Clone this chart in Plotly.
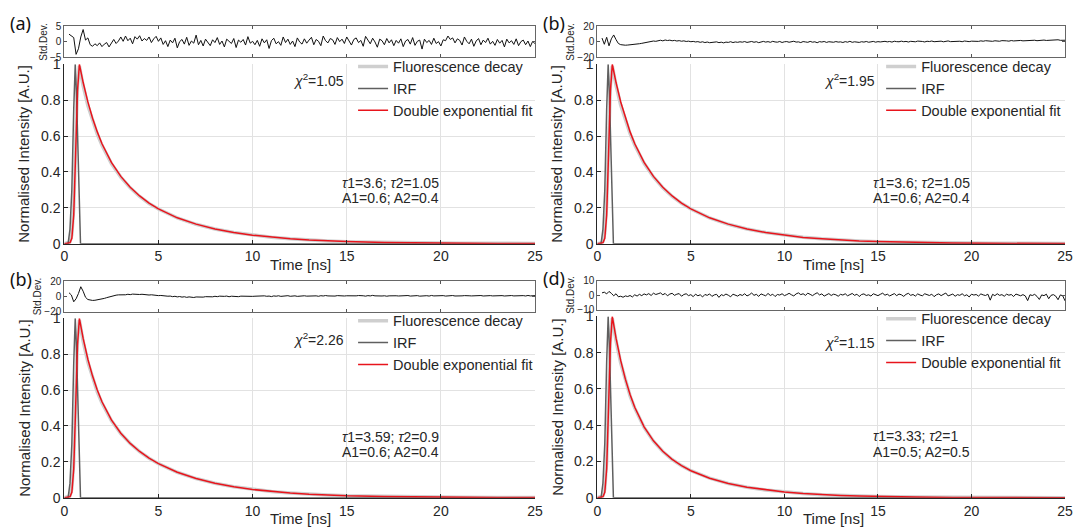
import plotly.graph_objects as go

W, H = 1078, 530

# ---------------- data ----------------
t_main = [0, 0.2, 0.3, 0.4, 0.5, 0.6, 0.7, 0.8, 0.9, 1.0, 1.25, 1.5, 1.75, 2, 2.5, 3, 3.5, 4, 4.5, 5,
          6, 7, 8, 9, 10, 11, 12, 13, 14, 15, 17, 19, 21, 23, 25]
t_irf = [0, 0.2, 0.3, 0.4, 0.5, 0.58, 0.65, 0.73, 0.8, 0.86, 1.0, 25]

fit_a = [0, 0.002, 0.005, 0.03, 0.16, 0.5, 0.85, 1.0, 0.947, 0.898, 0.790, 0.699, 0.623, 0.557, 0.453, 0.375,
         0.314, 0.266, 0.226, 0.194, 0.144, 0.109, 0.082, 0.062, 0.047, 0.035, 0.027, 0.020, 0.015, 0.012,
         0.007, 0.004, 0.002, 0.001, 0.001]
decay_a = [0, 0.004, 0.01, 0.05, 0.2, 0.55, 0.88, 0.99, 0.93, 0.88, 0.77, 0.685, 0.61, 0.548, 0.446, 0.371,
           0.311, 0.263, 0.224, 0.193, 0.144, 0.108, 0.082, 0.062, 0.047, 0.036, 0.027, 0.020, 0.015, 0.011,
           0.007, 0.004, 0.003, 0.002, 0.001]
irf_a = [0, 0, 0.08, 0.3, 0.75, 1.0, 0.82, 0.5, 0.18, 0, 0, 0]

fit_b = [0, 0.002, 0.005, 0.03, 0.16, 0.5, 0.85, 1.0, 0.947, 0.898, 0.790, 0.699, 0.623, 0.557, 0.453, 0.375,
         0.314, 0.266, 0.226, 0.194, 0.144, 0.109, 0.082, 0.062, 0.047, 0.035, 0.027, 0.020, 0.015, 0.012,
         0.007, 0.004, 0.002, 0.001, 0.001]
decay_b = [0, 0.004, 0.012, 0.06, 0.22, 0.56, 0.88, 0.99, 0.935, 0.882, 0.772, 0.688, 0.613, 0.55, 0.448, 0.372,
           0.312, 0.264, 0.225, 0.193, 0.144, 0.108, 0.082, 0.062, 0.047, 0.036, 0.027, 0.020, 0.015, 0.011,
           0.007, 0.004, 0.003, 0.002, 0.001]
irf_b = [0, 0, 0.08, 0.3, 0.75, 1.0, 0.82, 0.5, 0.18, 0, 0, 0]

fit_c = [0, 0.002, 0.005, 0.03, 0.16, 0.5, 0.85, 1.0, 0.941, 0.888, 0.772, 0.678, 0.600, 0.535, 0.434, 0.360,
         0.303, 0.258, 0.221, 0.190, 0.142, 0.107, 0.081, 0.061, 0.046, 0.035, 0.027, 0.020, 0.015, 0.011,
         0.007, 0.004, 0.002, 0.001, 0.001]
decay_c = [0, 0.004, 0.01, 0.05, 0.2, 0.55, 0.88, 0.99, 0.925, 0.872, 0.757, 0.665, 0.590, 0.528, 0.430, 0.358,
           0.302, 0.257, 0.220, 0.190, 0.142, 0.107, 0.081, 0.061, 0.046, 0.035, 0.027, 0.020, 0.015, 0.011,
           0.007, 0.004, 0.003, 0.002, 0.001]
irf_c = [0, 0, 0.08, 0.3, 0.75, 1.0, 0.82, 0.5, 0.18, 0, 0, 0]

fit_d = [0, 0.002, 0.005, 0.03, 0.16, 0.5, 0.85, 1.0, 0.938, 0.880, 0.756, 0.654, 0.569, 0.499, 0.391, 0.314,
         0.256, 0.212, 0.177, 0.149, 0.108, 0.079, 0.058, 0.043, 0.032, 0.023, 0.017, 0.013, 0.010, 0.007,
         0.004, 0.002, 0.001, 0.001, 0.000]
decay_d = [0, 0.004, 0.01, 0.05, 0.2, 0.55, 0.88, 0.99, 0.925, 0.866, 0.743, 0.645, 0.562, 0.494, 0.388, 0.312,
           0.255, 0.211, 0.177, 0.149, 0.108, 0.079, 0.058, 0.043, 0.032, 0.024, 0.017, 0.013, 0.010, 0.007,
           0.004, 0.002, 0.001, 0.001, 0.000]
irf_d = [0, 0, 0.08, 0.3, 0.75, 1.0, 0.82, 0.5, 0.18, 0, 0, 0]

# residuals sampled from t = 0.25 ns every 0.125 ns
res_t0, res_dt = 0.25, 0.125
res_a = [2.5, 2.0, 1.4, -4.0, -2.2, 1.6, 4.0, 0.6, 1.3, -0.9, -1.4, -0.6, -1.2, -0.3, -1.5, -0.7, -0.2, -1.6, -0.4, 0.8,
         -0.5, 0.3, 1.6, 0.2, 1.9, 0.4, 1.2, -0.6, 1.7, 0.9, 2.0, 0.3, 1.1, 0.5, 1.6, -0.2, 1.0, 1.8, 0.2, 1.3,
         -0.8, 0.4, -1.5, 0.6, -0.3, 1.2, -1.9, 0.1, 0.8, -0.7, 1.5, -1.1, 0.3, -0.4, 2.2, -0.9, 0.5, -1.3, 0.9, 0.0,
         -1.2, 0.7, -0.2, 1.4, -0.8, 0.3, -1.6, 0.9, 0.2, -0.5, 1.1, -1.8, 0.6, -0.1, 0.8, -1.0, 1.7, -0.4, 0.2, -0.9,
         0.5, -1.4, 1.0, -0.3, 0.7, -2.1, 0.4, 1.2, -0.6, 0.1, -1.1, 1.6, -0.2, 0.9, -0.8, 0.3, -1.5, 1.3, 0.0, -0.7,
         1.0, -0.4, 0.6, 1.5, -0.9, 0.8, 0.2, -1.2, 1.9, 0.4, -0.3, 1.1, 0.7, -0.8, 1.4, 0.1, 0.9, -0.5, 1.6, 0.3,
         -1.0, 0.8, 1.3, -0.2, 0.5, -1.4, 1.8, 0.6, -0.6, 1.2, 0.0, -1.7, 0.9, 0.4, -0.9, 1.1, -0.3, 0.7, -1.2, 0.5,
         -0.4, 1.0, -1.5, 0.3, 0.8, -0.7, 1.4, -1.1, 0.2, 0.6, -2.3, 0.9, -0.2, 0.5, -0.8, 1.2, -0.5, 0.1, -1.3, 0.7,
         0.4, 1.9, 0.8, 1.3, -0.3, 1.0, 0.5, -1.0, 1.6, 0.2, -0.6, 0.9, -1.4, 0.3, 1.1, -0.9, 0.6, -0.2, 1.2, -0.7,
         0.2, -1.1, 0.8, -0.4, 0.5, -1.6, 0.9, -0.3, 0.4, -0.8, 1.0, -1.2, 0.1, 0.6, -0.9, 0.3, -1.5, 0.2, -0.6]
res_b = [5, -3, 6, -5, 4, 9, 3, -2, -3.5, -4, -4.2, -4, -3.8, -3.5, -3.2, -2.8, -2.3, -1.8, -1.2, -0.6,
         0, 0.5, 1.2, 0.8, 1.6, 2.2, 1.4, 2.5, 1.8, 2.3, 1.5, 2.0, 1.2, 1.7, 0.9, 1.4, 0.6, 1.0, 0.3, 0.7,
         0.0, 0.4, -0.5, 0.2, -0.8, -0.1, -1.0, -0.4, -0.7, 0.1, -0.9, -0.3, -1.2, -0.2, -0.6, 0.3, -0.8, 0.0, -0.5, 0.2,
         -0.3, 0.5, -0.6, 0.1, 0.6, -0.4, 0.3, -0.9, 0.2, 0.7, -0.2, 0.4, -0.5, 0.8, 0.0, -0.3, 0.6, -0.7, 0.2, 0.5,
         -0.4, 0.3, 0.9, -0.2, 0.1, -0.8, 0.5, 0.0, -0.5, 0.7, -0.3, 0.2, -1.0, 0.4, -0.1, 0.6, -0.6, 0.3, 0.0, -0.4,
         0.5, -0.2, 0.1, -0.7, 0.4, -0.3, 0.8, -0.5, 0.2, 0.0, -0.6, 0.3, -0.2, 0.6, -0.4, 0.1, 0.7, -0.3, 0.4, 0.0,
         0.3, 0.8, 0.1, 0.6, -0.2, 0.9, 0.4, 0.2, 1.0, 0.3, 0.7, -0.1, 0.8, 0.5, 0.2, 1.1, 0.4, 0.6, 0.0, 0.9,
         0.5, 1.2, 0.3, 0.8, 0.6, 1.0, 0.2, 0.9, 1.3, 0.4, 0.7, 1.1, 0.5, 0.9, 0.3, 1.2, 0.8, 0.4, 1.0, 0.6,
         1.1, 0.7, 1.4, 0.9, 1.6, 1.0, 1.3, 0.8, 1.5, 1.2, 0.9, 1.7, 1.1, 1.4, 1.0, 1.8, 1.3, 1.6, 1.1, 1.9,
         1.4, 1.7, 2.0, 1.5, 1.9, 2.2, 1.6, 2.1, 1.8, 2.4, 1.9, 2.2, 2.6, 2.0, 2.3, 2.8, 2.1, 2.5, 2.2]
res_c = [5, 2, -7, -3, 4, 13, 7, -1, -4, -5, -5.2, -5, -4.6, -4, -3.2, -2.5, -1.5, -0.5, 0.5, 1.2,
         1.8, 2.2, 1.9, 2.6, 2.3, 3.0, 2.5, 3.2, 2.8, 3.4, 2.7, 3.0, 2.4, 2.8, 2.0, 2.3, 1.6, 1.9, 1.2, 1.4,
         0.8, 1.0, 0.4, 0.6, -0.2, 0.3, -0.5, 0.0, -0.8, -0.3, -1.1, -0.5, -0.9, -1.3, -0.6, -1.0, -0.4, -0.8, -0.2, -0.6,
         0.0, -0.4, 0.3, -0.2, 0.5, -0.1, 0.2, 0.6, -0.3, 0.4, 0.1, 0.7, -0.2, 0.5, 0.3, 0.8, 0.0, 0.6, 0.2, 0.4,
         0.7, 0.1, 0.5, 0.9, 0.3, 0.6, -0.1, 0.8, 0.4, 1.0, 0.2, 0.7, 0.5, 1.1, 0.3, 0.6, 0.9, 0.2, 0.8, 0.4,
         1.0, 0.5, 0.8, 1.2, 0.6, 0.9, 0.3, 1.1, 0.7, 1.3, 0.8, 0.5, 1.0, 0.6, 1.2, 0.9, 1.4, 0.7, 1.0, 0.8,
         1.1, 0.6, 0.9, 1.3, 0.7, 1.0, 0.5, 1.2, 0.8, 1.5, 0.9, 0.6, 1.1, 0.7, 1.0, 0.4, 0.9, 1.2, 0.6, 1.0,
         0.7, 1.1, 0.5, 0.9, 1.3, 0.6, 1.0, 0.8, 1.2, 0.5, 0.9, 0.7, 1.1, 0.6, 1.4, 0.8, 1.0, 0.5, 0.9, 1.2,
         0.6, 1.0, 0.8, 1.3, 0.7, 1.1, 0.5, 0.9, 1.2, 0.6, 1.0, 0.8, 1.1, 0.4, 0.9, 1.3, 0.7, 1.0, 0.6, 1.2,
         0.8, 1.1, 0.5, 0.9, 1.2, 0.7, 1.0, 0.6, 1.3, 0.8, 1.1, 0.5, 0.9, 1.2, 0.7, 1.4, 0.8, 1.0, 1.2]
res_d = [1.5, 2.0, 0.8, 2.5, 1.2, -0.5, 0.9, -1.2, -0.8, -1.5, -0.6, -1.0, -0.3, -1.3, 0.2, -0.7, 0.5, -0.4, 0.8, 0.1,
         1.0, -0.3, 1.3, 0.4, 0.9, 1.5, 0.2, 1.1, -0.5, 0.7, 1.2, -0.2, 0.6, 1.0, -0.8, 0.4, 0.9, -0.4, 0.3, -1.1,
         0.6, -0.5, 0.2, -1.3, 0.4, -0.2, 0.8, -0.9, 0.1, 0.5, -1.6, 0.3, -0.4, 0.7, -0.1, -1.2, 0.6, 0.0, -0.7, 0.4,
         -0.3, 0.9, -0.6, 0.2, 1.4, -0.2, 0.5, -0.9, 0.8, 0.1, -0.5, 1.1, -0.3, 0.6, -1.0, 0.4, 0.0, 0.9, -0.4, 0.3,
         1.2, 0.2, -0.6, 0.8, 1.5, 0.3, 0.9, -0.2, 1.3, 0.5, -0.4, 0.7, 1.6, 0.1, 0.8, -0.7, 0.4, 1.0, -0.3, 0.6,
         0.2, -0.8, 0.5, 0.0, 0.9, -0.5, 0.3, 1.1, -0.2, 0.6, -1.0, 0.4, 0.8, -0.3, 0.2, -0.7, 0.9, 0.1, -0.4, 0.5,
         1.3, -0.1, 0.6, -0.6, 0.3, 1.0, -0.4, 0.7, 0.2, -0.9, 0.5, 1.2, -0.2, 0.4, -0.7, 0.8, 0.0, -0.5, 0.9, 0.3,
         -0.3, 0.6, -1.1, 0.2, 0.8, -0.4, 0.5, 1.4, -0.6, 0.1, 0.7, -0.8, 0.3, -0.2, 0.9, -0.5, 0.2, -1.3, 0.6, 0.0,
         0.4, -0.7, 0.8, 0.1, -0.3, 0.6, -3.5, 0.5, -0.4, 0.9, -0.2, 0.3, -0.8, 0.6, -0.1, 0.4, -1.0, 0.7, 0.0, -0.5,
         0.3, -0.6, -3.8, 0.2, -0.3, 0.5, -0.9, -3.0, 0.1, -0.4, 0.6, -2.5, -0.2, 0.3, -0.7, -3.2, 0.1, -0.5, -4.0]

panel_labels = ["(a)", "(b)", "(b)", "(d)"]
chi2 = ["1.05", "1.95", "2.26", "1.15"]
tau1 = ["3.6", "3.6", "3.59", "3.33"]
tau2 = ["1.05", "1.05", "0.9", "1"]
amp1 = ["0.6", "0.6", "0.6", "0.5"]
amp2 = ["0.4", "0.4", "0.4", "0.5"]
res_ticks = [[-5, 0, 5], [-20, 0, 20], [-20, 0, 20], [-10, 0, 10]]
x_ticks = [0, 5, 10, 15, 20, 25]
y_ticks = [0, 0.2, 0.4, 0.6, 0.8, 1]
legend_names = ["Fluorescence decay", "IRF", "Double exponential fit"]

fits = [fit_a, fit_b, fit_c, fit_d]
decays = [decay_a, decay_b, decay_c, decay_d]
irfs = [irf_a, irf_b, irf_c, irf_d]
residuals = [res_a, res_b, res_c, res_d]

# ---------------- layout geometry (pixels) ----------------
# x extents, residual y extents, main y extents, legend left (px), chi2 y (data), label y (px)
geom = [
    (61, 537, 19, 51, 58, 243, 353, 0.91, 15),
    (600, 1073, 19, 51, 58, 243, 887, 0.91, 15),
    (61, 537, 282, 313, 320, 505, 353, 0.883, 279),
    (600, 1073, 281, 311, 318, 505, 887, 0.857, 278),
]

def px(x):
    return x / W

def py(y):
    return 1 - y / H

TXT = "#262626"
FONT = "Liberation Sans"
fig = go.Figure()
layout = dict(width=W, height=H, margin=dict(l=0, r=0, t=0, b=0),
              paper_bgcolor="white", plot_bgcolor="white", showlegend=True,
              font=dict(family=FONT, color=TXT, size=14))
annotations = []

for i in range(4):
    x0, x1, ry0, ry1, my0, my1, lgx, chy, lby = geom[i]
    mi = 2 * i + 1
    ri = 2 * i + 2
    mx, myy = f"x{mi}", f"y{mi}"
    rx, ryy = f"x{ri}", f"y{ri}"
    leg = "legend" if i == 0 else f"legend{i+1}"

    fig.add_trace(go.Scatter(x=t_main, y=decays[i], mode="lines", name=legend_names[0],
                             line=dict(color="#cfcfcf", width=3.5), xaxis=mx, yaxis=myy, legend=leg))
    fig.add_trace(go.Scatter(x=t_irf, y=irfs[i], mode="lines", name=legend_names[1],
                             line=dict(color="#5f5f5f", width=1.5), xaxis=mx, yaxis=myy, legend=leg))
    fig.add_trace(go.Scatter(x=t_main, y=fits[i], mode="lines", name=legend_names[2],
                             line=dict(color="#e8141c", width=1.5), xaxis=mx, yaxis=myy, legend=leg))
    fig.add_trace(go.Scatter(x0=res_t0, dx=res_dt, y=residuals[i], mode="lines", showlegend=False,
                             line=dict(color="#111111", width=1), xaxis=rx, yaxis=ryy))

    dom_x = [px(x0), px(x1)]
    layout[f"xaxis{mi}"] = dict(domain=dom_x, anchor=myy, range=[0, 25], tickvals=x_ticks,
                                ticks="inside", ticklen=4, tickcolor=TXT, showline=True, linecolor=TXT,
                                linewidth=1, showgrid=True, gridcolor="#e2e2e2", zeroline=False,
                                tickfont=dict(family=FONT, size=14, color=TXT))
    layout[f"yaxis{mi}"] = dict(domain=[py(my1), py(my0)], anchor=mx, range=[0, 1], tickvals=y_ticks,
                                ticktext=["0", "0.2", "0.4", "0.6", "0.8", "1"],
                                ticks="inside", ticklen=4, tickcolor=TXT, showline=True, linecolor=TXT,
                                linewidth=1, showgrid=True, gridcolor="#e2e2e2", zeroline=False,
                                tickfont=dict(family=FONT, size=14, color=TXT))
    layout[f"xaxis{ri}"] = dict(domain=dom_x, anchor=ryy, range=[0, 25], tickvals=x_ticks,
                                showticklabels=False, ticks="inside", ticklen=3, tickcolor="#555",
                                showline=True, mirror="ticks", linecolor="#666", linewidth=1,
                                showgrid=False, zeroline=False)
    layout[f"yaxis{ri}"] = dict(domain=[py(ry1), py(ry0)], anchor=rx,
                                range=[res_ticks[i][0], res_ticks[i][2]], tickvals=res_ticks[i],
                                ticks="inside", ticklen=3, tickcolor="#555",
                                showline=True, mirror="ticks", linecolor="#666", linewidth=1,
                                showgrid=False, zeroline=False,
                                tickfont=dict(family=FONT, size=10, color=TXT),
                                title=dict(text="Std.Dev.", font=dict(family=FONT, size=10, color=TXT),
                                           standoff=0))

    layout[leg] = dict(x=px(lgx), y=py(my0 - 14),
                       xanchor="left", yanchor="top", bgcolor="rgba(0,0,0,0)",
                       font=dict(family=FONT, size=14.5, color=TXT), itemwidth=30,
                       tracegroupgap=0)

    # axis titles
    annotations.append(dict(text="Normalised Intensity [A.U.]", xref="paper", yref="paper",
                            x=px(x0 - 41), y=py((my0 + my1) / 2), textangle=-90, showarrow=False,
                            font=dict(family=FONT, size=15, color=TXT), xanchor="center", yanchor="middle"))
    annotations.append(dict(text="Time [ns]", xref="paper", yref="paper",
                            x=px(x0 + 239), y=py(my1 + 21), showarrow=False,
                            font=dict(family=FONT, size=15, color=TXT), xanchor="center", yanchor="middle"))
    # panel label
    annotations.append(dict(text=panel_labels[i], xref="paper", yref="paper",
                            x=px(x0 - 57), y=py(lby), showarrow=False, xanchor="left", yanchor="middle",
                            font=dict(family="Noto Sans", size=18, color="#111")))
    # chi^2
    annotations.append(dict(text=f"<i>χ</i><sup>2</sup>={chi2[i]}", xref=mx, yref=myy,
                            x=13.5, y=chy, showarrow=False, xanchor="center", yanchor="middle",
                            font=dict(family=FONT, size=14, color=TXT)))
    # fit parameters (two lines)
    annotations.append(dict(text=f"<i>τ</i>1={tau1[i]}; <i>τ</i>2={tau2[i]}",
                            xref=mx, yref=myy, x=14.65, y=0.34, showarrow=False, xanchor="left",
                            yanchor="middle", align="left",
                            font=dict(family=FONT, size=14, color=TXT)))
    annotations.append(dict(text=f"A1={amp1[i]}; A2={amp2[i]}",
                            xref=mx, yref=myy, x=14.65, y=0.255, showarrow=False, xanchor="left",
                            yanchor="middle", align="left",
                            font=dict(family=FONT, size=14, color=TXT)))

layout["annotations"] = annotations
fig.update_layout(**layout)
fig.write_html("out.html")
